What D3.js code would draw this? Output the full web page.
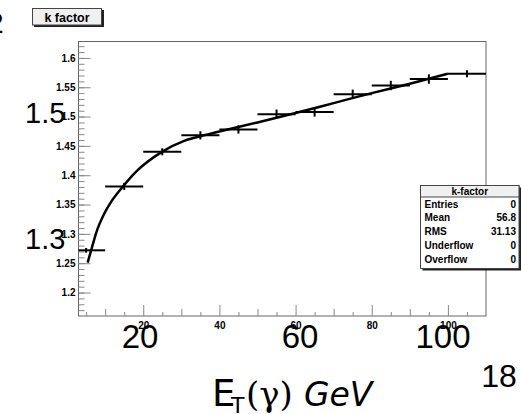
<!DOCTYPE html>
<html><head><meta charset="utf-8">
<script src="https://cdn.jsdelivr.net/npm/d3@7"></script>
<style>body{margin:0;background:#fff}svg{display:block}</style>
</head><body>
<svg id="c" width="521" height="414"></svg>
<script>
// ---- data ----
const binCenters = [5, 15, 25, 35, 45, 55, 65, 75, 85, 95, 105];
const binLow     = [3, 10, 20, 30, 40, 50, 60, 70, 80, 90, 100];
const binHigh    = [10, 20, 30, 40, 50, 60, 70, 80, 90, 100, 110];
const kValues    = [1.272, 1.381, 1.440, 1.468, 1.478, 1.504, 1.508, 1.538, 1.553, 1.564, 1.573];
const kErrors    = [0.004, 0.006, 0.006, 0.007, 0.007, 0.008, 0.008, 0.008, 0.008, 0.008, 0.006];
const fitX = [5.4, 6.5, 7.6, 9.8, 11.6, 14.7, 18.6, 24.7, 30.9, 35.3, 39.7, 50, 60, 70, 80, 90, 100];
const fitY = [1.251, 1.276, 1.301, 1.335, 1.355, 1.381, 1.409, 1.439, 1.459, 1.467, 1.474, 1.490, 1.506, 1.523, 1.540, 1.556, 1.573];
const yMajor = [1.2, 1.25, 1.3, 1.35, 1.4, 1.45, 1.5, 1.55, 1.6];
const yMajorLabels = ["1.2", "1.25", "1.3", "1.35", "1.4", "1.45", "1.5", "1.55", "1.6"];
const xMajor = [20, 40, 60, 80, 100];
const xMajorLabels = ["20", "40", "60", "80", "100"];
const statNames  = ["Entries", "Mean", "RMS", "Underflow", "Overflow"];
const statValues = ["0", "56.8", "31.13", "0", "0"];
const bigYLabels = ["1.5", "1.3"];
const bigXLabels = ["20", "60", "100"];

const svg = d3.select("#c");
const L = 78.5, R = 486, T = 41.5, B = 316;
const x = d3.scaleLinear().domain([3, 110]).range([L, R]);
const y = d3.scaleLinear().domain([1.16, 1.628]).range([B, T]);
const lbl = "'Liberation Sans', Arial, sans-serif";

// frame
svg.append("rect").attr("x", L).attr("y", T).attr("width", R - L).attr("height", B - T)
  .attr("fill", "#fff").attr("stroke", "#666").attr("stroke-width", 1);

// y axis ticks
const yMinor = d3.range(1.17, 1.625, 0.01).map(v => +v.toFixed(2));
function tickStyle(g){ g.select(".domain").remove(); g.selectAll("line").attr("stroke", "#888"); g.selectAll("text").remove(); }
svg.append("g").attr("transform", `translate(${L},0)`)
  .call(d3.axisRight(y).tickValues(yMinor).tickSize(6)).call(tickStyle);
svg.append("g").attr("transform", `translate(${L},0)`)
  .call(d3.axisRight(y).tickValues(yMajor).tickSize(12)).call(tickStyle);
const yl = svg.append("g").attr("transform", `translate(${L},0)`)
  .call(d3.axisLeft(y).tickValues(yMajor).tickSize(0).tickPadding(3)
    .tickFormat((d, i) => yMajorLabels[i]));
yl.select(".domain").remove();
yl.selectAll("text").attr("font-family", lbl).attr("font-weight", "bold")
  .attr("font-size", 10).attr("fill", "#000");

// x axis ticks
const x5 = d3.range(5, 110, 10);
const x10 = [10, 30, 50, 70, 90];
svg.append("g").attr("transform", `translate(0,${B})`)
  .call(d3.axisTop(x).tickValues(x5).tickSize(4)).call(tickStyle);
svg.append("g").attr("transform", `translate(0,${B})`)
  .call(d3.axisTop(x).tickValues(x10).tickSize(7)).call(tickStyle);
svg.append("g").attr("transform", `translate(0,${B})`)
  .call(d3.axisTop(x).tickValues(xMajor).tickSize(11)).call(tickStyle);
const xl = svg.append("g").attr("transform", `translate(0,${B})`)
  .call(d3.axisBottom(x).tickValues(xMajor).tickSize(0).tickPadding(6)
    .tickFormat((d, i) => xMajorLabels[i]));
xl.select(".domain").remove();
xl.selectAll("text").attr("font-family", lbl).attr("font-weight", "bold")
  .attr("font-size", 10).attr("fill", "#000");

// histogram markers
const pts = binCenters.map((c, i) => ({c, lo: binLow[i], hi: binHigh[i], v: kValues[i], e: kErrors[i]}));
const mk = svg.append("g").attr("stroke", "#000").attr("stroke-width", 2);
mk.selectAll(".h").data(pts).join("line")
  .attr("x1", d => x(d.lo)).attr("x2", d => x(d.hi))
  .attr("y1", d => y(d.v)).attr("y2", d => y(d.v));
mk.selectAll(".v").data(pts).join("line")
  .attr("x1", d => x(d.c)).attr("x2", d => x(d.c))
  .attr("y1", d => y(d.v - d.e)).attr("y2", d => y(d.v + d.e));

// fit curve
const fit = fitX.map((v, i) => [v, fitY[i]]);
svg.append("path").datum(fit)
  .attr("d", d3.line().x(d => x(d[0])).y(d => y(d[1])).curve(d3.curveMonotoneX))
  .attr("fill", "none").attr("stroke", "#000").attr("stroke-width", 2.5);

// title box
const tb = svg.append("g");
tb.append("rect").attr("x", 34).attr("y", 10).attr("width", 70).attr("height", 17).attr("fill", "#222");
tb.append("rect").attr("x", 32.5).attr("y", 8.5).attr("width", 69).attr("height", 16.5)
  .attr("fill", "#f0f0f0").attr("stroke", "#444").attr("stroke-width", 1);
tb.append("text").attr("x", 67).attr("y", 21.5).attr("text-anchor", "middle")
  .attr("font-family", lbl).attr("font-weight", "bold").attr("font-size", 12.5).text("k factor");

// stats box
const sx = 420.5, sy = 185.5, sw = 98.5, sh = 83;
const sb = svg.append("g");
sb.append("rect").attr("x", sx + 2).attr("y", sy + 2).attr("width", sw).attr("height", sh).attr("fill", "#222");
sb.append("rect").attr("x", sx).attr("y", sy).attr("width", sw).attr("height", sh)
  .attr("fill", "#fff").attr("stroke", "#444").attr("stroke-width", 1);
sb.append("rect").attr("x", sx).attr("y", sy).attr("width", sw).attr("height", 11.5)
  .attr("fill", "#f0f0f0").attr("stroke", "#444").attr("stroke-width", 1);
sb.append("text").attr("x", sx + sw / 2).attr("y", sy + 9.5).attr("text-anchor", "middle")
  .attr("font-family", lbl).attr("font-weight", "bold").attr("font-size", 10).text("k-factor");
const rowY = d3.scaleLinear().domain([0, 4]).range([sy + 22, sy + 77]);
sb.selectAll(".sn").data(statNames).join("text")
  .attr("x", sx + 4).attr("y", (d, i) => rowY(i))
  .attr("font-family", lbl).attr("font-weight", "bold").attr("font-size", 10).text(d => d);
sb.selectAll(".sv").data(statValues).join("text")
  .attr("x", sx + sw - 3).attr("y", (d, i) => rowY(i)).attr("text-anchor", "end")
  .attr("font-family", lbl).attr("font-weight", "bold").attr("font-size", 10).text(d => d);

// overlaid big slide text
const big = "'Liberation Sans', Arial, sans-serif";
svg.append("text").attr("x", -13).attr("y", 33).attr("font-family", big).attr("font-size", 30).text("2");
const bigYPos = [123, 249];
svg.selectAll(".by").data(bigYLabels).join("text")
  .attr("x", 25).attr("y", (d, i) => bigYPos[i])
  .attr("font-family", big).attr("font-size", 29).attr("fill", "#000").text(d => d);
const bigXPos = [140, 300, 443];
svg.selectAll(".bx").data(bigXLabels).join("text")
  .attr("x", (d, i) => bigXPos[i]).attr("y", 347.5).attr("text-anchor", "middle")
  .attr("font-family", big).attr("font-size", 33).attr("fill", "#000").text(d => d);
svg.append("text").attr("x", 499).attr("y", 387).attr("text-anchor", "middle")
  .attr("font-family", big).attr("font-size", 32).text("18");

// axis title E_T(γ) GeV
const at = svg.append("g").attr("font-size", 37).attr("fill", "#000");
at.append("text").attr("x", 212).attr("y", 406).attr("font-family", "'DejaVu Sans', sans-serif").text("E");
at.append("text").attr("x", 231).attr("y", 413).attr("font-family", "'DejaVu Sans', sans-serif").attr("font-size", 22).text("T");
at.append("text").attr("x", 246).attr("y", 406).attr("font-family", "'DejaVu Serif', serif").attr("font-size", 34).text("(γ)");
at.append("text").attr("x", 304).attr("y", 406).attr("font-family", "'DejaVu Sans', sans-serif").attr("font-style", "italic").attr("font-size", 33).text("GeV");
</script>
</body></html>
